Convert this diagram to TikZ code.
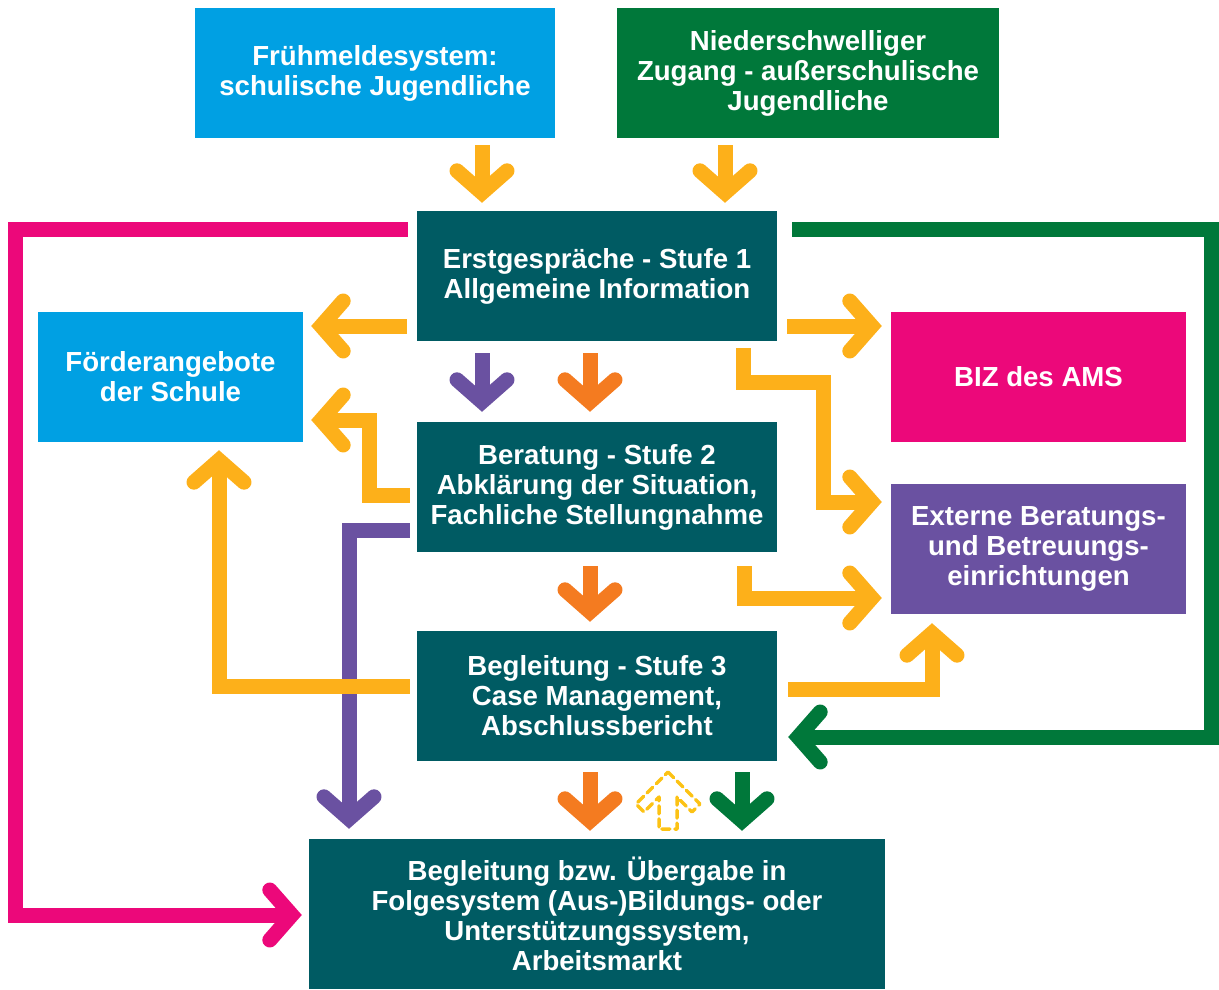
\documentclass[tikz,border=0pt]{standalone}
\usepackage{fontspec}
\setmainfont{Liberation Sans}
\usetikzlibrary{arrows.meta,calc}
\definecolor{cCyan}{RGB}{0,160,227}
\definecolor{cGreen}{RGB}{0,120,58}
\definecolor{cTeal}{RGB}{0,91,99}
\definecolor{cMag}{RGB}{236,8,122}
\definecolor{cPurp}{RGB}{106,81,161}
\definecolor{cYel}{RGB}{253,176,26}
\definecolor{cOra}{RGB}{244,123,32}
\definecolor{cDash}{RGB}{252,194,20}
\tikzset{
  box/.style={rectangle, inner sep=0pt, text=white, align=center,
    font=\fontsize{27.6}{30}\selectfont\bfseries},
  arr/.style={line width=15pt, line join=miter,
    -{Straight Barb[length=22pt,width=50pt,line join=miter,line cap=round]}},
  plain/.style={line width=15pt, line join=miter}
}
\begin{document}
\begin{tikzpicture}[x=1pt,y=-1pt]
\useasboundingbox (0,0) rectangle (1219,990);
% boxes
\node[box, fill=cCyan, minimum width=360, minimum height=130] (fm) at (375,73) {Frühmeldesystem:\\schulische Jugendliche};
\node[box, fill=cGreen, minimum width=382, minimum height=130] (nz) at (808,73) {Niederschwelliger\\Zugang - außerschulische\\Jugendliche};
\node[box, fill=cTeal, minimum width=360, minimum height=130] (s1) at (597,276) {Erstgespräche - Stufe 1\\Allgemeine Information};
\node[box, fill=cCyan, minimum width=265, minimum height=130] (fa) at (170.5,377) {Förderangebote\\der Schule};
\node[box, fill=cMag, minimum width=295, minimum height=130] (biz) at (1038.5,377) {BIZ des AMS};
\node[box, fill=cTeal, minimum width=360, minimum height=130] (s2) at (597,487) {Beratung - Stufe 2\\Abklärung der Situation,\\Fachliche Stellungnahme};
\node[box, fill=cPurp, minimum width=295, minimum height=130] (ext) at (1038.5,549) {Externe Beratungs-\\und Betreuungs-\\einrichtungen};
\node[box, fill=cTeal, minimum width=360, minimum height=130] (s3) at (597,696) {Begleitung - Stufe 3\\Case Management,\\Abschlussbericht};
\node[box, fill=cTeal, minimum width=576, minimum height=150] (end) at (597,914) {Begleitung bzw. Übergabe in\\Folgesystem (Aus-)Bildungs- oder\\Unterstützungssystem,\\Arbeitsmarkt};
% top arrows
\draw[arr, cYel] ($(fm.south)+(107,7)$) -- ($(s1.north)+(-115,-8)$);
\draw[arr, cYel] ($(nz.south)+(-83,7)$) -- ($(s1.north)+(128,-8)$);
% magenta loop
\draw[arr, cMag] ($(s1.west)+(-9,-47)$) -- ++(-392,0) |- ($(end.west)+(-7,1)$);
% green loop
\draw[arr, cGreen] ($(s1.east)+(15,-47)$) -- ++(419,0) |- ($(s3.east)+(11,41)$);
% from s1
\draw[arr, cYel] ($(s1.west)+(-10,50)$) -- ($(fa.east)+(8,-51)$);
\draw[arr, cPurp] ($(s1.south)+(-115,12)$) -- ($(s2.north)+(-115,-10)$);
\draw[arr, cOra] ($(s1.south)+(-7,12)$) -- ($(s2.north)+(-7,-10)$);
\draw[arr, cYel] ($(s1.east)+(10,50)$) -- ($(biz.west)+(-9,-51)$);
\draw[arr, cYel] ($(s1.south)+(146,7)$) -- ++(0,34) -- ++(80,0) |- ($(ext.west)+(-9,-47)$);
% from s2
\draw[arr, cYel] ($(s2.west)+(-7,8)$) -- ++(-40,0) |- ($(fa.east)+(8,43)$);
\draw[arr, cPurp] ($(s2.west)+(-7,43)$) -| ($(end.north)+(-248,-10)$);
\draw[arr, cOra] ($(s2.south)+(-7,14)$) -- ($(s3.north)+(-7,-9)$);
\draw[arr, cYel] ($(s2.south)+(147,14)$) |- ($(ext.west)+(-9,49)$);
% from s3
\draw[arr, cYel] ($(s3.west)+(-7,-10)$) -| ($(fa.south)+(48.5,8)$);
\draw[arr, cYel] ($(s3.east)+(11,-7)$) -| ($(ext.south)+(-106.5,9)$);
\draw[arr, cOra] ($(s3.south)+(-7,11)$) -- ($(end.north)+(-7,-8)$);
\draw[arr, cGreen] ($(s3.south)+(145,11)$) -- ($(end.north)+(145,-8)$);
% dashed outline arrow
\draw[cDash, line width=3.5pt, dash pattern=on 8pt off 5pt, line cap=round, line join=round]
  (668,772) -- (700,804) -- (692,812) -- (677,797) -- (677,829) -- (659,829) -- (659,797) -- (644,812) -- (636,804) -- cycle;
\end{tikzpicture}
\end{document}
